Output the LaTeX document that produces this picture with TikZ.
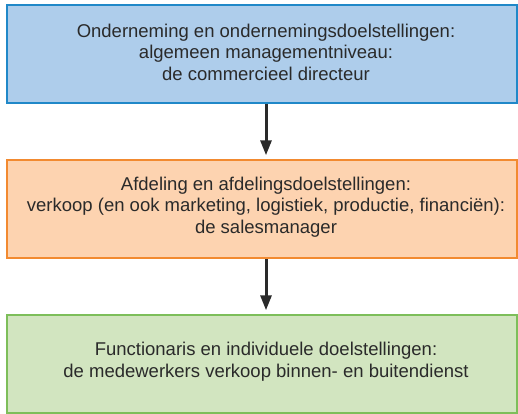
\documentclass[tikz,border=0pt]{standalone}
\usepackage{fontspec}
\setmainfont{Liberation Sans}
\usetikzlibrary{arrows.meta}
\definecolor{bluefill}{HTML}{AECDEB}
\definecolor{blueline}{HTML}{2088C8}
\definecolor{orangefill}{HTML}{FDD3B0}
\definecolor{orangeline}{HTML}{F28A30}
\definecolor{greenfill}{HTML}{D2E5C0}
\definecolor{greenline}{HTML}{7DBE5A}
\definecolor{txt}{HTML}{2A2A2A}
\tikzset{
  levelbox/.style={draw, line width=1.5pt, minimum width=510pt, minimum height=98pt, inner sep=0pt},
  boxtext/.style={inner sep=0pt, align=center, text=txt, font=\fontsize{18.5pt}{21.5pt}\selectfont},
  flowarrow/.style={draw=txt, line width=3pt, -{Triangle[length=15pt,width=11pt]}, shorten >=4pt}
}
\begin{document}
\begin{tikzpicture}[x=1pt,y=-1pt]
\useasboundingbox (0,0) rectangle (518,413);
\fill[white] (0,0) rectangle (518,413);
\node[levelbox, fill=bluefill, draw=blueline] (top) at (262,54) {};
\node[levelbox, fill=orangefill, draw=orangeline] (mid) at (262,209) {};
\node[levelbox, fill=greenfill, draw=greenline] (bot) at (262,364) {};
\node[boxtext] (toptext) at (266,52)
  {Onderneming en ondernemingsdoelstellingen:\\algemeen managementniveau:\\de commercieel directeur};
\node[boxtext] (midtext) at (266,207)
  {Afdeling en afdelingsdoelstellingen:\\verkoop (en ook marketing, logistiek, productie, financiën):\\de salesmanager};
\node[boxtext] (bottext) at (266,361.5)
  {Functionaris en individuele doelstellingen:\\de medewerkers verkoop binnen- en buitendienst};
\draw[flowarrow] (top.south -| 266,0) -- (mid.north -| 266,0);
\draw[flowarrow] (mid.south -| 266,0) -- (bot.north -| 266,0);
\end{tikzpicture}
\end{document}
